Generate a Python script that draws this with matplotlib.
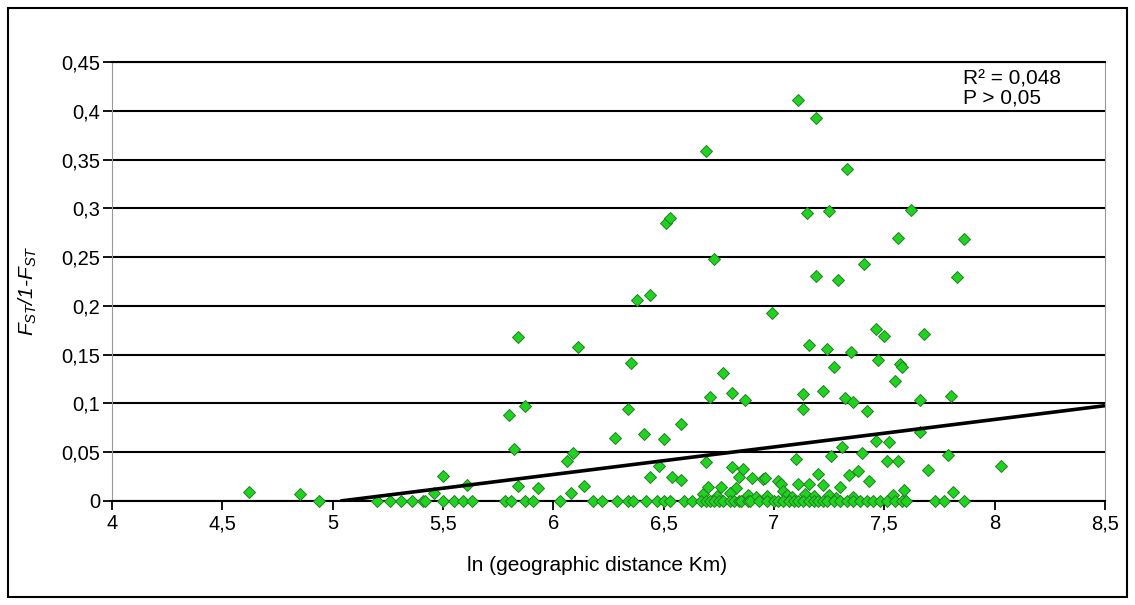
import matplotlib
matplotlib.use("Agg")
import matplotlib.pyplot as plt
from matplotlib.patches import Rectangle
import numpy as np

plt.rcParams['font.family'] = ['Liberation Sans', 'DejaVu Sans']
plt.rcParams['mathtext.fontset'] = 'custom'
plt.rcParams['mathtext.it'] = 'Liberation Sans:italic'
plt.rcParams['mathtext.rm'] = 'Liberation Sans'

# ---- data ----
x_nonzero = [4.62, 4.85, 5.46, 5.50, 5.61, 5.80, 5.82, 5.84, 5.84, 5.87, 5.93, 6.06, 6.08, 6.09,
             6.11, 6.14, 6.28, 6.34, 6.35, 6.38, 6.41, 6.44, 6.44, 6.48, 6.50, 6.51, 6.53, 6.54,
             6.58, 6.58, 6.68, 6.69, 6.69, 6.71, 6.70, 6.73, 6.76, 6.77, 6.81, 6.81, 6.83, 6.84,
             6.86, 6.87, 6.90, 6.95, 6.96, 6.99, 7.02, 7.03, 7.04, 7.10, 7.11, 7.11, 7.13, 7.13,
             7.15, 7.16, 7.16, 7.19, 7.19, 7.20, 7.22, 7.22, 7.24, 7.25, 7.26, 7.27, 7.29, 7.30,
             7.31, 7.32, 7.33, 7.34, 7.35, 7.36, 7.38, 7.40, 7.41, 7.42, 7.43, 7.46, 7.46, 7.47,
             7.50, 7.51, 7.52, 7.54, 7.55, 7.56, 7.56, 7.57, 7.58, 7.59, 7.62, 7.66, 7.66, 7.68,
             7.70, 7.79, 7.80, 7.81, 7.83, 7.86, 8.03,
             6.74, 6.80, 6.88, 6.92, 6.97, 7.06, 7.08, 7.14, 7.18, 7.25, 7.28, 7.36]
y_nonzero = [0.009, 0.007, 0.008, 0.026, 0.016, 0.088, 0.053, 0.015, 0.168, 0.097, 0.013, 0.041, 0.008, 0.049,
             0.158, 0.015, 0.065, 0.094, 0.141, 0.206, 0.069, 0.211, 0.025, 0.036, 0.064, 0.285, 0.290, 0.025,
             0.022, 0.079, 0.007, 0.040, 0.359, 0.107, 0.014, 0.248, 0.014, 0.131, 0.111, 0.035, 0.013, 0.025,
             0.033, 0.104, 0.024, 0.023, 0.024, 0.193, 0.020, 0.017, 0.010, 0.043, 0.411, 0.017, 0.110, 0.094,
             0.295, 0.017, 0.160, 0.393, 0.231, 0.028, 0.113, 0.016, 0.156, 0.297, 0.046, 0.137, 0.227, 0.014,
             0.055, 0.106, 0.340, 0.027, 0.153, 0.101, 0.031, 0.049, 0.243, 0.092, 0.021, 0.176, 0.061, 0.145,
             0.169, 0.041, 0.060, 0.006, 0.123, 0.041, 0.270, 0.140, 0.137, 0.011, 0.298, 0.104, 0.071, 0.171,
             0.032, 0.047, 0.108, 0.009, 0.230, 0.269, 0.036,
             0.005, 0.008, 0.006, 0.004, 0.005, 0.006, 0.004, 0.007, 0.005, 0.006, 0.003, 0.004]
x_zero = [4.94, 5.20, 5.26, 5.31, 5.36, 5.41, 5.42, 5.50, 5.55, 5.59, 5.63, 5.78, 5.81, 5.87, 5.91,
          6.03, 6.18, 6.22, 6.29, 6.34, 6.36, 6.42, 6.47, 6.50, 6.53, 6.59, 6.63, 6.67, 6.69, 6.71,
          6.73, 6.75, 6.77, 6.80, 6.82, 6.84, 6.85, 6.88, 6.89, 6.93, 6.97, 7.00, 7.02, 7.04, 7.07,
          7.09, 7.11, 7.13, 7.16, 7.18, 7.20, 7.22, 7.24, 7.27, 7.30, 7.33, 7.36, 7.39, 7.42, 7.45,
          7.48, 7.51, 7.55, 7.58, 7.60, 7.73, 7.77, 7.86]
y_zero = [0.0] * len(x_zero)

reg_slope = 0.0282
reg_intercept = -0.1420
reg_x = [5.035, 8.5]

x_ticks = [4, 4.5, 5, 5.5, 6, 6.5, 7, 7.5, 8, 8.5]
x_ticklabels = ['4', '4,5', '5', '5,5', '6', '6,5', '7', '7,5', '8', '8,5']
y_ticks = [0, 0.05, 0.1, 0.15, 0.2, 0.25, 0.3, 0.35, 0.4, 0.45]
y_ticklabels = ['0', '0,05', '0,1', '0,15', '0,2', '0,25', '0,3', '0,35', '0,4', '0,45']

# ---- figure ----
fig = plt.figure(figsize=(11.35, 6.05), dpi=100)
fig.patch.set_facecolor('white')
ax = fig.add_axes([112/1135, 1-501/605, (1105-112)/1135, (501-62)/605])

ax.set_xlim(4, 8.5)
ax.set_ylim(0, 0.45)

for yv in y_ticks:
    ax.axhline(yv, color='black', lw=1.5, zorder=1)

xs = np.array(x_nonzero + x_zero)
ys = np.array(y_nonzero + y_zero)
ax.plot(xs, ys, linestyle='none', marker='D', markersize=6.4,
        markerfacecolor='#1fd41f', markeredgecolor='#2a7a2a', markeredgewidth=0.7,
        zorder=3, clip_on=False)

rx = np.array(reg_x)
ax.plot(rx, reg_slope * rx + reg_intercept, color='black', lw=2.6, zorder=4,
        solid_capstyle='butt')

ax.set_xticks(x_ticks)
ax.set_xticklabels(x_ticklabels)
ax.set_yticks(y_ticks)
ax.set_yticklabels(y_ticklabels)
ax.tick_params(axis='both', labelsize=14.5, color='black', width=1.3, length=6.5, direction='out')
ax.tick_params(axis='x', pad=3)
ax.tick_params(axis='y', pad=2)

for side in ['left', 'right']:
    ax.spines[side].set_color('#999999')
    ax.spines[side].set_linewidth(0.8)
for side in ['top', 'bottom']:
    ax.spines[side].set_color('black')
    ax.spines[side].set_linewidth(1.5)

ax.set_xlabel('ln (geographic distance Km)', fontsize=15)
ax.xaxis.set_label_coords(0.488, -0.125)
ax.set_ylabel(r'$F_{ST}$/1-$F_{ST}$', fontsize=15, fontstyle='italic')
ax.yaxis.set_label_coords(-0.074, 0.48)

ax.text(0.857, 0.983, 'R\u00b2 = 0,048\nP > 0,05', transform=ax.transAxes,
        fontsize=15, va='top', ha='left', linespacing=1.0)

fig.add_artist(Rectangle((8/1135, 8/605), (1127-8)/1135, (597-8)/605,
                         transform=fig.transFigure, fill=False, edgecolor='black', lw=1.5))

fig.savefig('out.png', dpi=100, facecolor='white')
